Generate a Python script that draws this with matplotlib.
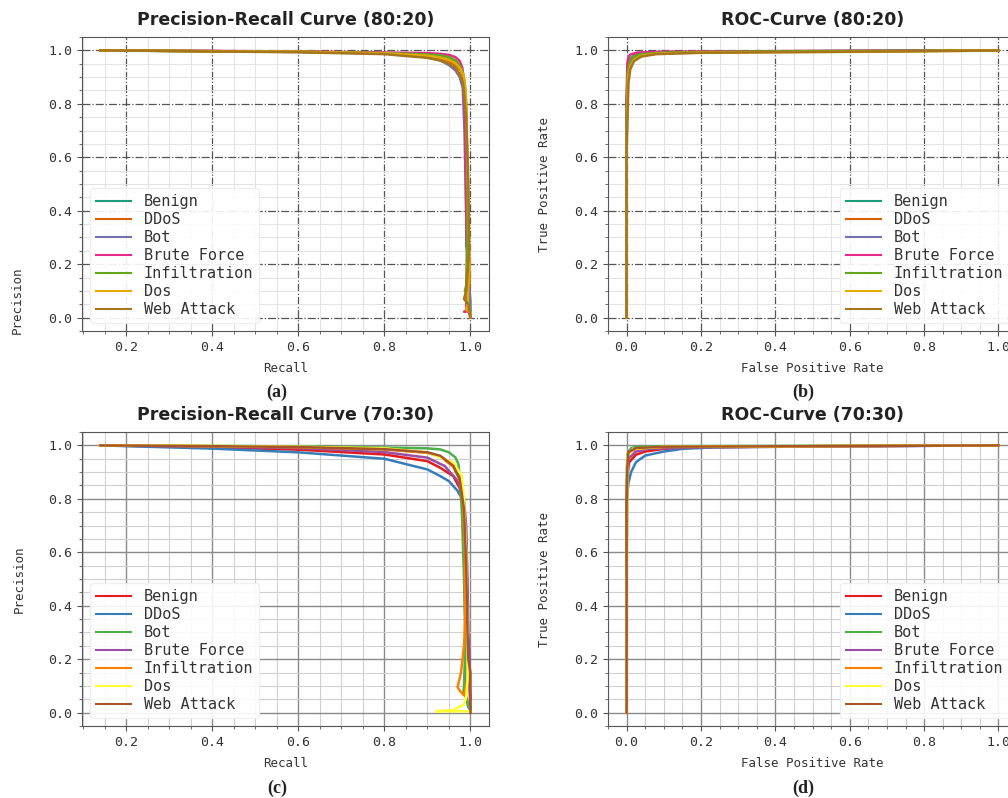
import matplotlib
matplotlib.use("Agg")
import matplotlib.pyplot as plt

classes = ["Benign", "DDoS", "Bot", "Brute Force", "Infiltration", "Dos", "Web Attack"]

dark2 = ["#1b9e77", "#d95f02", "#7570b3", "#e7298a", "#66a61e", "#e6ab02", "#a6761d"]
set1 = ["#e41a1c", "#377eb8", "#4daf4a", "#984ea3", "#ff7f00", "#ffff33", "#a65628"]

# precision-recall 80:20 (recall, precision), one list per class
pr80_recall = [
    [0.14, 0.4, 0.6, 0.8, 0.9, 0.93, 0.95, 0.965, 0.975, 0.982, 0.987, 0.99, 0.992, 0.99, 0.993, 0.995, 0.998, 1.0],
    [0.14, 0.4, 0.6, 0.8, 0.9, 0.93, 0.95, 0.965, 0.977, 0.985, 0.99, 0.993, 0.995, 0.998, 0.997, 1.0],
    [0.14, 0.4, 0.6, 0.8, 0.9, 0.93, 0.95, 0.965, 0.975, 0.982, 0.986, 0.99, 0.995, 0.998, 1.0, 1.0],
    [0.14, 0.4, 0.6, 0.8, 0.9, 0.93, 0.95, 0.965, 0.975, 0.981, 0.985, 0.988, 0.99, 0.992, 0.99, 0.985, 0.995, 1.0],
    [0.14, 0.4, 0.6, 0.8, 0.9, 0.93, 0.95, 0.965, 0.975, 0.982, 0.988, 0.992, 0.993, 0.99, 0.987, 0.995, 1.0],
    [0.14, 0.4, 0.6, 0.8, 0.9, 0.93, 0.95, 0.965, 0.977, 0.985, 0.99, 0.993, 0.996, 0.998, 0.993, 0.99, 1.0, 1.0],
    [0.14, 0.4, 0.6, 0.8, 0.9, 0.93, 0.95, 0.965, 0.975, 0.983, 0.99, 0.995, 0.997, 0.99, 0.985, 0.995, 1.0],
]
pr80_precision = [
    [1.0, 0.997, 0.995, 0.99, 0.985, 0.978, 0.97, 0.958, 0.94, 0.915, 0.87, 0.7, 0.45, 0.27, 0.25, 0.1, 0.05, 0.0],
    [1.0, 0.997, 0.995, 0.99, 0.978, 0.97, 0.96, 0.945, 0.925, 0.89, 0.8, 0.5, 0.3, 0.15, 0.06, 0.0],
    [1.0, 0.997, 0.994, 0.988, 0.975, 0.962, 0.945, 0.925, 0.9, 0.86, 0.7, 0.4, 0.15, 0.1, 0.06, 0.0],
    [1.0, 0.998, 0.996, 0.992, 0.99, 0.987, 0.983, 0.975, 0.96, 0.935, 0.88, 0.7, 0.4, 0.2, 0.025, 0.022, 0.025, 0.0],
    [1.0, 0.997, 0.995, 0.99, 0.985, 0.981, 0.975, 0.963, 0.945, 0.92, 0.85, 0.6, 0.3, 0.12, 0.1, 0.08, 0.0],
    [1.0, 0.997, 0.995, 0.989, 0.98, 0.973, 0.965, 0.952, 0.93, 0.9, 0.82, 0.6, 0.35, 0.2, 0.05, 0.03, 0.02, 0.0],
    [1.0, 0.996, 0.993, 0.986, 0.972, 0.962, 0.95, 0.935, 0.91, 0.875, 0.75, 0.5, 0.25, 0.1, 0.07, 0.05, 0.0],
]

# ROC 80:20 (fpr, tpr)
roc80_fpr = [
    [0, 0, 0.002, 0.005, 0.01, 0.02, 0.05, 0.1, 0.3, 0.6, 1.0],
    [0, 0, 0.003, 0.008, 0.02, 0.05, 0.1, 0.3, 0.65, 1.0],
    [0, 0, 0.003, 0.008, 0.02, 0.05, 0.15, 0.4, 1.0],
    [0, 0, 0.002, 0.005, 0.01, 0.03, 0.1, 0.5, 1.0],
    [0, 0, 0.003, 0.007, 0.015, 0.04, 0.1, 0.35, 1.0],
    [0, 0, 0.004, 0.01, 0.02, 0.04, 0.08, 0.2, 0.65, 1.0],
    [0, 0, 0.005, 0.01, 0.02, 0.04, 0.08, 0.2, 0.9, 1.0],
]
roc80_tpr = [
    [0, 0.75, 0.9, 0.95, 0.97, 0.982, 0.99, 0.993, 0.996, 0.998, 1.0],
    [0, 0.8, 0.92, 0.96, 0.978, 0.987, 0.991, 0.995, 0.997, 1.0],
    [0, 0.7, 0.9, 0.95, 0.975, 0.986, 0.992, 0.996, 1.0],
    [0, 0.82, 0.95, 0.975, 0.985, 0.992, 0.995, 0.998, 1.0],
    [0, 0.75, 0.91, 0.95, 0.975, 0.986, 0.992, 0.996, 1.0],
    [0, 0.63, 0.9, 0.94, 0.965, 0.98, 0.988, 0.992, 0.995, 1.0],
    [0, 0.63, 0.88, 0.93, 0.96, 0.977, 0.986, 0.991, 0.998, 1.0],
]

# precision-recall 70:30
pr70_recall = [
    [0.14, 0.4, 0.6, 0.8, 0.9, 0.93, 0.96, 0.975, 0.98, 0.985, 0.988, 0.99, 0.993, 0.995, 0.998, 1.0],
    [0.14, 0.4, 0.6, 0.8, 0.9, 0.93, 0.95, 0.97, 0.98, 0.985, 0.988, 0.99, 0.988, 0.995, 1.0],
    [0.14, 0.4, 0.6, 0.8, 0.9, 0.93, 0.95, 0.965, 0.972, 0.975, 0.98, 0.985, 0.988, 0.985, 0.983, 0.99, 1.0],
    [0.14, 0.4, 0.6, 0.8, 0.9, 0.94, 0.97, 0.985, 0.99, 0.993, 0.995, 0.998, 0.998, 1.0],
    [0.14, 0.4, 0.6, 0.8, 0.9, 0.93, 0.96, 0.975, 0.983, 0.987, 0.988, 0.985, 0.978, 0.97, 0.976, 0.985, 0.99, 0.995],
    [0.14, 0.4, 0.6, 0.8, 0.9, 0.93, 0.96, 0.98, 0.985, 0.99, 0.993, 0.993, 0.99, 0.985, 0.96, 0.92, 1.0],
    [0.14, 0.4, 0.6, 0.8, 0.9, 0.93, 0.96, 0.975, 0.985, 0.99, 0.993, 0.995, 1.0, 1.0],
]
pr70_precision = [
    [1.0, 0.993, 0.984, 0.966, 0.941, 0.916, 0.885, 0.84, 0.8, 0.72, 0.5, 0.3, 0.2, 0.18, 0.1, 0.0],
    [1.0, 0.988, 0.974, 0.95, 0.91, 0.885, 0.866, 0.83, 0.8, 0.7, 0.4, 0.2, 0.07, 0.02, 0.02],
    [1.0, 0.998, 0.996, 0.992, 0.989, 0.985, 0.974, 0.955, 0.93, 0.88, 0.75, 0.5, 0.25, 0.1, 0.07, 0.06, 0.0],
    [1.0, 0.995, 0.99, 0.975, 0.954, 0.923, 0.868, 0.8, 0.7, 0.5, 0.3, 0.21, 0.1, 0.05],
    [1.0, 0.997, 0.993, 0.985, 0.972, 0.958, 0.92, 0.87, 0.78, 0.6, 0.35, 0.25, 0.15, 0.095, 0.08, 0.065, 0.1, 0.15],
    [1.0, 0.998, 0.995, 0.989, 0.974, 0.955, 0.936, 0.886, 0.8, 0.6, 0.3, 0.12, 0.06, 0.03, 0.01, 0.005, 0.005],
    [1.0, 0.997, 0.994, 0.986, 0.974, 0.961, 0.924, 0.874, 0.76, 0.55, 0.3, 0.2, 0.15, 0.0],
]

# ROC 70:30
roc70_fpr = [
    [0, 0, 0.003, 0.007, 0.025, 0.05, 0.1, 0.2, 0.5, 1.0],
    [0, 0, 0.005, 0.012, 0.025, 0.05, 0.1, 0.15, 0.24, 0.5, 1.0],
    [0, 0, 0.001, 0.003, 0.012, 0.025, 0.1, 1.0],
    [0, 0, 0.001, 0.002, 0.005, 0.025, 0.06, 0.2, 1.0],
    [0, 0, 0.002, 0.005, 0.025, 0.1, 0.5, 1.0],
    [0, 0, 0.001, 0.002, 0.003, 0.017, 0.1, 1.0],
    [0, 0, 0.002, 0.005, 0.025, 0.1, 1.0],
]
roc70_tpr = [
    [0, 0.75, 0.9, 0.937, 0.965, 0.977, 0.987, 0.993, 0.997, 1.0],
    [0, 0.8, 0.86, 0.9, 0.937, 0.962, 0.977, 0.987, 0.993, 0.996, 1.0],
    [0, 0.85, 0.93, 0.97, 0.99, 0.995, 0.997, 1.0],
    [0, 0.6, 0.66, 0.85, 0.95, 0.977, 0.987, 0.993, 1.0],
    [0, 0.8, 0.92, 0.97, 0.988, 0.994, 0.997, 1.0],
    [0, 0.5, 0.6, 0.9, 0.96, 0.987, 0.995, 1.0],
    [0, 0.78, 0.92, 0.975, 0.99, 0.995, 1.0],
]

mono = "DejaVu Sans Mono"

fig = plt.figure(figsize=(10.08, 7.98), dpi=100)


def style(ax, title, xlabel, ylabel, dashed):
    ax.set_title(title, fontsize=12.5, fontweight="bold", family="DejaVu Sans", pad=9, color="#222222")
    ax.set_xlabel(xlabel, family=mono, fontsize=9, color="#333333", labelpad=6)
    ax.set_ylabel(ylabel, family=mono, fontsize=9, color="#333333", labelpad=16.5)
    ax.minorticks_on()
    if dashed:
        ax.grid(which="major", linestyle="-.", color="#555555", linewidth=0.9)
        ax.grid(which="minor", linestyle="-", color="#e3e3e3", linewidth=0.7)
    else:
        ax.grid(which="major", linestyle="-", color="#8a8a8a", linewidth=1.0)
        ax.grid(which="minor", linestyle="-", color="#cfcfcf", linewidth=0.8)
    ax.set_axisbelow(True)
    for s in ax.spines.values():
        s.set_color("#555555")
    ax.tick_params(which="both", colors="#555555", labelcolor="#333333")
    for lab in ax.get_xticklabels() + ax.get_yticklabels():
        lab.set_family(mono)
        lab.set_fontsize(9.5)


def legend(ax, loc):
    leg = ax.legend(loc=loc, prop={"family": mono, "size": 11}, handlelength=2.3,
                    handletextpad=0.85, labelspacing=0.2, borderpad=0.4,
                    framealpha=0.9, edgecolor="#eeeeee", fancybox=True,
                    labelcolor="#333333")
    for h in leg.get_lines():
        h.set_linewidth(1.5)


axw, axh = 0.4038, 0.3684
ax_a = fig.add_axes([0.0813, 0.5852, axw, axh])
ax_b = fig.add_axes([0.6032, 0.5852, 0.4058, axh])
ax_c = fig.add_axes([0.0813, 0.0902, axw, axh])
ax_d = fig.add_axes([0.6032, 0.0902, 0.4058, axh])

for i, name in enumerate(classes):
    ax_a.plot(pr80_recall[i], pr80_precision[i], color=dark2[i], lw=1.8, label=name)
    ax_b.plot(roc80_fpr[i], roc80_tpr[i], color=dark2[i], lw=1.8, label=name)
    ax_c.plot(pr70_recall[i], pr70_precision[i], color=set1[i], lw=1.8, label=name)
    ax_d.plot(roc70_fpr[i], roc70_tpr[i], color=set1[i], lw=1.8, label=name)

style(ax_a, "Precision-Recall Curve (80:20)", "Recall", "Precision", True)
style(ax_b, "ROC-Curve (80:20)", "False Positive Rate", "True Positive Rate", True)
style(ax_c, "Precision-Recall Curve (70:30)", "Recall", "Precision", False)
style(ax_d, "ROC-Curve (70:30)", "False Positive Rate", "True Positive Rate", False)

# the first panel's y label sits low in the source figure
ax_a.yaxis.set_label_coords(-0.1425, 0.105)

legend(ax_a, "lower left")
legend(ax_b, "lower right")
legend(ax_c, "lower left")
legend(ax_d, "lower right")

for x, y, t in [(0.275, 0.508, "(a)"), (0.797, 0.508, "(b)"),
                (0.275, 0.012, "(c)"), (0.797, 0.012, "(d)")]:
    fig.text(x, y, t, ha="center", va="center", family="Liberation Serif",
             fontweight="bold", fontsize=13, color="#222222")

fig.savefig("out.png", dpi=100)
